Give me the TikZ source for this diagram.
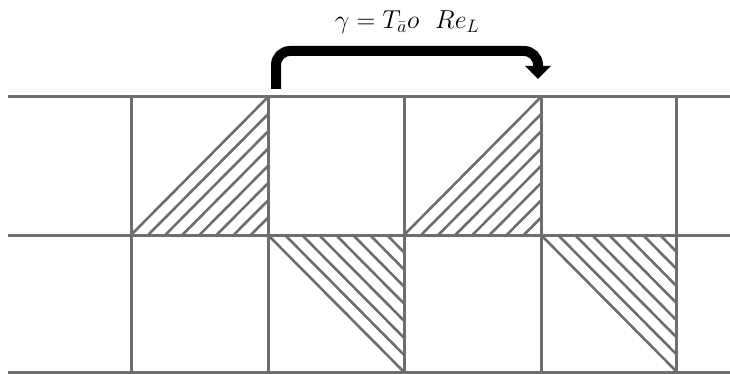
\documentclass[tikz,border=0pt]{standalone}
\usetikzlibrary{arrows.meta}
\definecolor{TileGray}{RGB}{110,110,110}
\tikzset{
  tile/edge/.style={draw=TileGray, line width=3pt},
  tile/hatch/.style={draw=TileGray, line width=2.6pt},
  mapping/arrow/.style={-{Triangle[length=13pt,width=25pt]}, line width=10pt, draw=black, rounded corners=14pt},
  mapping/label/.style={font=\fontsize{21}{25}\selectfont, inner sep=0pt, scale=1.25, transform shape}
}

\begin{document}
\begin{tikzpicture}[x=1pt,y=-1pt]
  \useasboundingbox (0,0) rectangle (730,374);
  % hatched halves, upper row
  \foreach \cx in {131,404}
    \foreach \k in {0,...,7}
      \draw[tile/hatch] ({\cx+\k*17.1},235) -- ({\cx+137},{97+\k*17.25});
  % hatched halves, lower row
  \foreach \cx in {268,541}
    \foreach \k in {0,...,7}
      \draw[tile/hatch] ({\cx+\k*17},235) -- ({\cx+136},{372-\k*17.1});
  % grid
  \foreach \y in {97,235,372}
    \draw[tile/edge] (8,\y) -- (730,\y);
  \foreach \x in {131,268,404,541,676}
    \draw[tile/edge] (\x,97) -- (\x,372);
  % shift of the pattern
  \node[mapping/label] (law) at (407,22) {$\gamma = T_{\bar{a}}o\ \ Re_L$};
  \coordinate (from) at (276,89);
  \coordinate (over) at (407,51);
  \coordinate (to) at (538,79);
  \draw[mapping/arrow] (from) |- (over) -| (to);
\end{tikzpicture}
\end{document}
